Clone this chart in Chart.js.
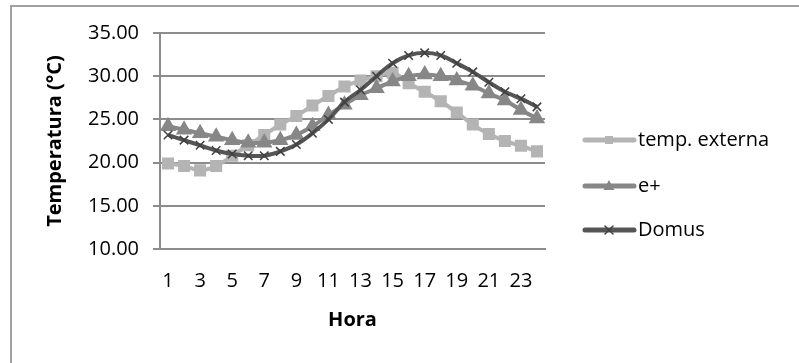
<!DOCTYPE html>
<html>
<head>
<meta charset="utf-8">
<script src="https://cdn.jsdelivr.net/npm/chart.js@4/dist/chart.umd.min.js"></script>
<style>
  html, body { margin: 0; padding: 0; background: #fff; }
  #wrap { width: 799px; height: 363px; }
</style>
</head>
<body>
<div id="wrap"><canvas id="chart" width="799" height="363"></canvas></div>
<script>
// hours 1..24
const hours = ["1","2","3","4","5","6","7","8","9","10","11","12","13","14","15","16","17","18","19","20","21","22","23","24"];
const tempExterna = [19.9, 19.6, 19.1, 19.6, 20.8, 22.0, 23.2, 24.4, 25.4, 26.6, 27.7, 28.8, 29.5, 30.0, 30.4, 29.2, 28.2, 27.1, 25.8, 24.4, 23.3, 22.5, 21.95, 21.3];
const ePlus = [24.2, 23.8, 23.4, 23.0, 22.6, 22.3, 22.3, 22.6, 23.2, 24.2, 25.5, 26.7, 27.8, 28.6, 29.4, 30.0, 30.2, 30.0, 29.5, 28.9, 28.0, 27.2, 26.1, 25.1];
const domus = [23.2, 22.6, 22.0, 21.4, 21.0, 20.8, 20.8, 21.3, 22.1, 23.4, 25.0, 27.0, 28.4, 30.0, 31.5, 32.4, 32.7, 32.4, 31.5, 30.5, 29.3, 28.2, 27.4, 26.45];
const yTicks = [10, 15, 20, 25, 30, 35];

const FONT = "'Open Sans', 'Noto Sans', sans-serif";

// outer frame of the excel chart
const framePlugin = {
  id: "frame",
  beforeDraw(chart) {
    const ctx = chart.ctx;
    ctx.save();
    ctx.fillStyle = "#fff";
    ctx.fillRect(0, 0, chart.width, chart.height);
    ctx.strokeStyle = "#a0a0a0";
    ctx.lineWidth = 2;
    ctx.strokeRect(11, 6, 900, 500);
    ctx.restore();
  },
};

function drawMarker(ctx, style, x, y, color) {
  ctx.fillStyle = color;
  ctx.strokeStyle = color;
  ctx.beginPath();
  if (style === "rect") {
    ctx.fillRect(x - 4, y - 4, 8, 8);
  } else if (style === "triangle") {
    ctx.moveTo(x, y - 6);
    ctx.lineTo(x + 5.5, y + 4);
    ctx.lineTo(x - 5.5, y + 4);
    ctx.closePath();
    ctx.fill();
  } else {
    ctx.lineWidth = 1.5;
    ctx.moveTo(x - 4, y - 4);
    ctx.lineTo(x + 4, y + 4);
    ctx.moveTo(x + 4, y - 4);
    ctx.lineTo(x - 4, y + 4);
    ctx.stroke();
  }
}

// legend drawn like excel: line + marker, text at right
const legendPlugin = {
  id: "xlLegend",
  afterDraw(chart) {
    const ctx = chart.ctx;
    const rows = [140, 186, 230];
    ctx.save();
    chart.data.datasets.forEach((ds, i) => {
      const y = rows[i];
      ctx.strokeStyle = ds.borderColor;
      ctx.lineWidth = 5;
      ctx.lineCap = "round";
      ctx.beginPath();
      ctx.moveTo(585, y);
      ctx.lineTo(634, y);
      ctx.stroke();
      drawMarker(ctx, ds.pointStyle, 609, y, ds.pointBorderColor || ds.borderColor);
      ctx.fillStyle = "#000";
      ctx.font = "20px " + FONT;
      ctx.textBaseline = "middle";
      ctx.textAlign = "left";
      ctx.fillText(ds.label, 638, y);
    });
    ctx.restore();
  },
};

const ctx = document.getElementById("chart").getContext("2d");
const chart = new Chart(ctx, {
  type: "line",
  data: {
    labels: hours,
    datasets: [
      {
        label: "temp. externa",
        data: tempExterna,
        borderColor: "#b4b4b4",
        backgroundColor: "#b4b4b4",
        pointBackgroundColor: "#b4b4b4",
        pointBorderColor: "#b4b4b4",
        pointStyle: "rect",
        pointRadius: 5.7,
        borderWidth: 4,
        tension: 0.4,
        order: 3,
      },
      {
        label: "e+",
        data: ePlus,
        borderColor: "#878787",
        backgroundColor: "#878787",
        pointBackgroundColor: "#878787",
        pointBorderColor: "#878787",
        pointStyle: "triangle",
        pointRadius: 5.5,
        borderWidth: 4,
        tension: 0.4,
        order: 2,
      },
      {
        label: "Domus",
        data: domus,
        borderColor: "#555555",
        backgroundColor: "#555555",
        pointBackgroundColor: "#555555",
        pointBorderColor: "#404040",
        pointStyle: "crossRot",
        pointRadius: 6,
        pointBorderWidth: 1.5,
        borderWidth: 4,
        tension: 0.4,
        order: 1,
      },
    ],
  },
  options: {
    responsive: false,
    animation: false,
    layout: { padding: { left: 10, top: 33, right: 254, bottom: 0 } },
    plugins: {
      legend: { display: false },
      tooltip: { enabled: false },
    },
    scales: {
      x: {
        offset: true,
        grid: { display: false, drawTicks: false },
        border: { display: true, color: "#8c8c8c", width: 2 },
        ticks: {
          autoSkip: false,
          maxRotation: 0,
          padding: 20,
          color: "#000",
          font: { family: FONT, size: 20 },
          callback: (v, i) => (i % 2 === 0 ? hours[i] : ""),
        },
        title: {
          display: true,
          text: "Hora",
          color: "#000",
          font: { family: FONT, size: 20, weight: "bold" },
          padding: { top: 0, bottom: 31 },
        },
        afterFit: (scale) => { scale.height = 114; },
      },
      y: {
        min: 10,
        max: 35,
        grid: { color: "#8c8c8c", lineWidth: 2, tickLength: 7 },
        border: { display: true, color: "#8c8c8c", width: 2 },
        afterBuildTicks: (scale) => { scale.ticks = yTicks.map((v) => ({ value: v })); },
        ticks: {
          padding: 14,
          color: "#000",
          font: { family: FONT, size: 20 },
          callback: (v) => Number(v).toFixed(2),
        },
        title: {
          display: true,
          text: "Temperatura (°C)",
          color: "#000",
          font: { family: FONT, size: 20, weight: "bold" },
          padding: { top: 33, bottom: 0 },
        },
        afterFit: (scale) => { scale.width = 150; },
      },
    },
  },
  plugins: [framePlugin, legendPlugin],
});
</script>
</body>
</html>
